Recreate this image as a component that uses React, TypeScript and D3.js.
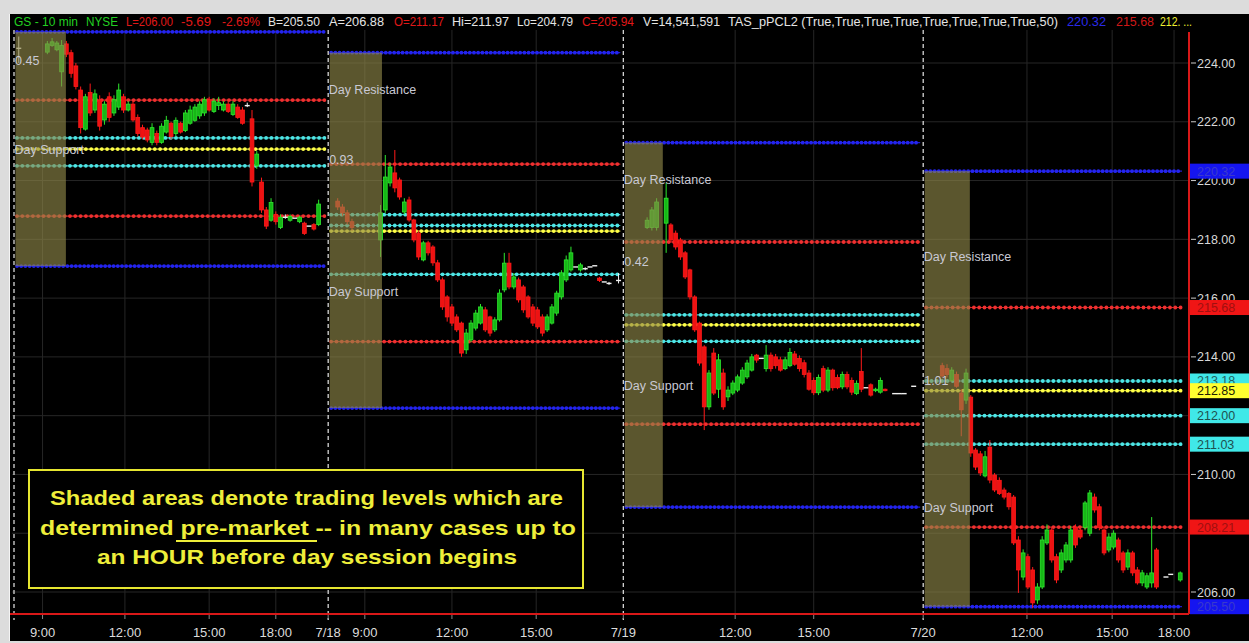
import React from "react";
import * as d3 from "d3";

type C = [number, number, number, number] | null; // open, high, low, close

// ---------- DATA ----------
const priceTicks = [206, 208, 210, 212, 214, 216, 218, 220, 222, 224];

const timeTicks: [number, string][] = [
  [6, "9:00"], [23.3, "12:00"], [41, "15:00"], [55, "18:00"],
  [66, "7/18"], [73.7, "9:00"], [92, "12:00"], [109.7, "15:00"],
  [128, "7/19"], [151.5, "12:00"], [168, "15:00"],
  [191, "7/20"], [212.8, "12:00"], [230.7, "15:00"], [243.7, "18:00"],
];

const dayStart = [0, 66, 128, 191];
const dayEnd = [66, 128, 191, 246];
const shadeEnd = [10.9, 77.3, 136.3, 200.8];

const blueTop = [225.06, 224.35, 221.29, 220.32];
const blueBottom = [217.09, 212.26, 208.89, 205.5];
const redHigh = [222.74, 220.56, 217.91, 215.68];
const redLow = [218.79, 214.52, 211.71, 208.21];
const cyanLevels = [[221.45, 220.5], [218.84, 218.47, 216.81], [215.43, 214.53], [213.18, 212.0, 211.03]];
const yellowLevel = [221.07, 218.28, 215.09, 212.85];
const resistLabelAt: (number | null)[] = [null, 223.11, 220.02, 217.4];
const supportLabelAt = [221.07, 216.21, 213.01, 208.86];
const gapText = ["0.45", "0.93", "0.42", "1.01"];
const gapAt = [224.1, 220.7, 217.23, 213.21];

const tags = [
  { v: 220.32, bg: "#1515f0", fg: "#3a3acc" },
  { v: 215.68, bg: "#f01515", fg: "#a01010" },
  { v: 213.18, bg: "#40e8e8", fg: "#206060" },
  { v: 212.85, bg: "#ffff30", fg: "#202000" },
  { v: 212.0, bg: "#40e8e8", fg: "#205050" },
  { v: 211.03, bg: "#40e8e8", fg: "#205050" },
  { v: 208.21, bg: "#f01515", fg: "#a01010" },
  { v: 205.5, bg: "#1515f0", fg: "#3a3acc" },
];

const day1Start = 1;
const day1Candles: C[] = [
  [224.5, 224.9, 224.0, 224.5],
  null, null, null, null, null,
  [224.37, 224.75, 224.3, 224.65], [224.6, 224.85, 224.55, 224.72], [224.45, 224.75, 224.4, 224.68],
  [223.7, 224.78, 223.2, 224.6], [224.65, 224.75, 224.2, 224.3], [224.35, 224.45, 223.5, 223.65],
  [223.9, 224.0, 223.1, 223.2], [223.08, 223.2, 221.6, 221.8], [221.75, 222.95, 221.7, 222.85],
  [223.0, 223.3, 222.2, 222.3], [222.4, 223.1, 222.3, 222.95], [222.74, 222.9, 221.7, 221.85],
  [222.06, 222.7, 221.9, 222.6], [222.85, 223.0, 222.0, 222.15], [222.3, 222.9, 222.2, 222.75],
  [222.5, 223.3, 222.4, 223.08], [222.85, 222.95, 222.3, 222.4], [222.4, 222.7, 222.35, 222.6],
  [222.6, 222.7, 222.0, 222.06], [222.15, 222.25, 221.5, 221.6], [221.8, 221.9, 221.4, 221.48],
  [221.72, 221.8, 221.3, 221.38], [221.3, 221.95, 221.2, 221.8], [221.6, 221.7, 221.2, 221.3],
  [221.3, 221.95, 221.25, 221.85], [221.65, 222.2, 221.6, 222.05], [221.95, 222.0, 221.4, 221.5],
  [221.6, 222.15, 221.5, 222.05], [221.95, 222.0, 221.6, 221.65], [221.7, 222.4, 221.65, 222.3],
  [221.95, 222.55, 221.9, 222.4], [222.05, 222.6, 222.0, 222.5], [222.2, 222.7, 222.1, 222.6],
  [222.3, 222.85, 222.2, 222.75], [222.75, 222.85, 222.35, 222.4], [222.35, 222.8, 222.3, 222.7],
  [222.55, 222.85, 222.4, 222.65], [222.4, 222.7, 222.35, 222.6], [222.6, 222.7, 222.3, 222.35],
  [222.25, 222.7, 222.2, 222.6], [222.5, 222.6, 222.1, 222.15], [222.4, 222.5, 221.9, 221.95],
  [222.55, 222.65, 222.5, 222.57], [222.1, 222.4, 219.8, 219.95], [220.5, 221.0, 220.4, 220.9],
  [219.95, 220.1, 218.9, 219.0], [219.0, 219.1, 218.35, 218.45], [218.65, 219.4, 218.6, 219.25],
  [218.85, 218.95, 218.5, 218.6], [218.4, 218.85, 218.35, 218.75], [218.75, 218.85, 218.7, 218.75],
  [218.65, 218.85, 218.6, 218.78], [218.72, 218.76, 218.7, 218.72], [218.6, 218.8, 218.55, 218.75],
  [218.55, 218.6, 218.15, 218.2], [218.45, 218.5, 218.4, 218.45], [218.5, 218.55, 218.3, 218.35],
  [218.5, 219.35, 218.45, 219.2],
];

const day2Start = 68;
const day2Candles: C[] = [
  [219.3, 219.4, 219.0, 219.1], [219.1, 219.2, 218.8, 218.9], [218.9, 219.0, 218.5, 218.6], [218.6, 218.7, 218.3, 218.4],
  null, null, null, null, null,
  [217.98, 219.17, 217.4, 218.9], [219.0, 220.87, 218.9, 220.12], [219.92, 220.6, 219.8, 220.46],
  [220.26, 221.04, 219.6, 219.75], [220.02, 220.1, 219.35, 219.44], [218.93, 219.4, 218.85, 219.27],
  [219.34, 219.45, 218.6, 218.66], [218.66, 218.7, 217.9, 217.98], [218.21, 218.3, 217.3, 217.4],
  [217.3, 217.95, 217.25, 217.88], [217.88, 217.95, 217.45, 217.54], [217.74, 217.8, 217.1, 217.2],
  [217.2, 217.3, 216.55, 216.62], [216.62, 216.7, 215.6, 215.7], [216.04, 216.1, 215.2, 215.36],
  [215.7, 215.8, 215.05, 215.15], [215.36, 215.45, 214.85, 214.92], [215.15, 215.2, 214.0, 214.13],
  [214.24, 214.95, 214.1, 214.81], [214.58, 215.25, 214.5, 215.15], [214.98, 215.6, 214.9, 215.49],
  [215.15, 215.8, 215.1, 215.7], [215.6, 215.7, 214.85, 214.92], [215.36, 215.4, 214.7, 214.81],
  [214.92, 215.35, 214.85, 215.26], [215.26, 216.3, 215.2, 216.17], [216.28, 217.54, 216.2, 217.19],
  [217.19, 217.54, 216.3, 216.38], [216.38, 216.85, 216.3, 216.72], [216.62, 216.7, 215.85, 215.94],
  [216.38, 216.45, 215.5, 215.6], [216.04, 216.1, 215.3, 215.36], [215.7, 215.8, 215.05, 215.15],
  [215.6, 215.7, 214.95, 215.02], [215.36, 215.45, 214.7, 214.81], [214.92, 215.45, 214.85, 215.36],
  [215.15, 215.8, 215.1, 215.7], [215.49, 216.25, 215.4, 216.17], [216.04, 216.95, 215.95, 216.86],
  [216.62, 217.45, 216.55, 217.3], [216.96, 217.75, 216.9, 217.54], [217.06, 217.1, 217.0, 217.06],
  [216.96, 217.2, 216.9, 217.13], [217.0, 217.05, 216.95, 217.0], [217.06, 217.1, 217.0, 217.06],
  [217.1, 217.12, 217.05, 217.1], [216.68, 216.72, 216.55, 216.6], [216.55, 216.6, 216.5, 216.55],
  [216.5, 216.55, 216.45, 216.5], null, [216.6, 216.85, 216.5, 216.6],
];

const day3Start = 133;
const day3Candles: C[] = [
  [218.4, 218.75, 218.35, 218.65], [218.4, 219.1, 218.3, 219.0], [218.4, 219.4, 218.3, 219.27], null,
  [218.55, 219.92, 217.54, 219.4], [218.49, 218.55, 217.9, 217.98], [218.21, 218.3, 217.65, 217.74],
  [217.98, 218.05, 217.3, 217.4], [217.54, 217.6, 216.65, 216.72], [216.96, 217.0, 215.95, 216.04],
  [216.04, 216.1, 214.85, 214.92], [215.15, 215.2, 213.7, 213.79], [214.34, 214.4, 211.51, 212.3],
  [212.3, 213.55, 212.2, 213.45], [214.13, 214.3, 212.7, 212.77], [212.9, 214.1, 212.6, 213.9],
  [213.45, 213.6, 212.2, 212.3], [212.64, 213.0, 212.5, 212.87], [212.77, 213.2, 212.7, 213.11],
  [212.87, 213.4, 212.8, 213.32], [213.11, 213.65, 213.05, 213.55], [213.32, 213.9, 213.25, 213.79],
  [213.55, 214.1, 213.5, 214.0], [214.06, 214.1, 213.8, 213.89], [213.95, 214.0, 213.9, 213.95],
  [213.6, 214.4, 213.5, 214.06], [214.06, 214.15, 213.5, 213.6], [214.0, 214.1, 213.6, 213.7],
  [213.9, 214.0, 213.5, 213.55], [213.6, 214.0, 213.55, 213.9], [213.7, 214.3, 213.65, 214.15],
  [214.1, 214.2, 213.7, 213.75], [213.95, 214.05, 213.5, 213.6], [213.8, 213.9, 213.3, 213.4],
  [213.45, 213.55, 212.85, 212.9], [213.2, 213.3, 212.7, 212.78], [212.78, 213.4, 212.7, 213.3],
  [213.6, 213.7, 212.8, 212.87], [212.87, 213.65, 212.8, 213.55], [213.55, 213.6, 212.85, 212.95],
  [213.3, 213.4, 212.9, 212.95], [212.98, 213.5, 212.9, 213.4], [213.4, 213.5, 212.9, 212.98],
  [213.2, 213.3, 212.7, 212.8], [212.75, 213.2, 212.7, 213.1], [213.5, 214.3, 212.8, 212.9],
  [212.95, 213.0, 212.9, 212.95], [213.05, 213.1, 212.65, 212.7], [212.85, 212.95, 212.8, 212.9],
  [212.8, 213.3, 212.75, 213.2], [212.9, 212.92, 212.83, 212.85], null,
  [212.75, 212.78, 212.72, 212.75], [212.75, 212.78, 212.72, 212.75], [212.75, 212.78, 212.72, 212.75], null,
  [213.0, 213.03, 212.97, 213.0],
];

const day4Start = 195;
const day4Candles: C[] = [
  [213.7, 213.8, 213.3, 213.35], [213.6, 213.75, 213.3, 213.4], [213.2, 213.65, 213.15, 213.55],
  [213.4, 213.5, 212.95, 213.0], [212.77, 212.9, 211.3, 212.2], [212.53, 213.6, 212.4, 213.45],
  [212.63, 212.7, 210.6, 210.73], [210.83, 210.9, 210.15, 210.25], [210.7, 210.8, 209.95, 210.05],
  [209.95, 210.8, 209.9, 210.6], [210.93, 211.17, 209.7, 209.81], [209.98, 210.05, 209.4, 209.47],
  [209.8, 209.9, 209.3, 209.35], [209.47, 209.55, 209.15, 209.23], [209.35, 209.4, 208.8, 208.9],
  [209.23, 209.3, 207.6, 207.67], [207.77, 207.9, 205.97, 206.75], [206.51, 207.45, 206.4, 207.33],
  [207.2, 207.3, 206.1, 206.17], [206.75, 206.85, 205.45, 205.63], [205.73, 206.3, 205.6, 206.17],
  [206.17, 207.9, 206.1, 207.77], [207.67, 208.3, 207.6, 208.11], [208.11, 208.2, 207.0, 207.09],
  [207.2, 207.3, 206.3, 206.41], [206.75, 207.45, 206.65, 207.33], [207.09, 207.7, 207.0, 207.6],
  [207.09, 208.25, 207.0, 208.11], [208.2, 208.3, 207.5, 207.6], [208.11, 208.2, 207.8, 207.87],
  [208.2, 209.1, 208.1, 209.03], [208.0, 209.47, 207.9, 209.37], [209.23, 209.35, 208.7, 208.79],
  [208.9, 209.0, 208.1, 208.2], [208.11, 208.2, 207.25, 207.33], [207.43, 208.0, 207.35, 207.87],
  [207.53, 208.1, 207.45, 208.0], [207.77, 207.85, 207.0, 207.09], [207.33, 207.4, 206.65, 206.75],
  [206.85, 207.45, 206.75, 207.33], [207.33, 207.4, 206.55, 206.65], [206.75, 206.85, 206.25, 206.31],
  [206.31, 206.75, 206.2, 206.65], [206.17, 206.65, 206.1, 206.55], [206.31, 208.55, 206.15, 206.65],
  [207.43, 207.5, 206.1, 206.17], null, [206.51, 206.54, 206.48, 206.51], [206.6, 206.63, 206.57, 206.6], null,
  [206.41, 206.7, 206.35, 206.65],
];

const headerParts: { t: string; x0: number; x1: number; c: string }[] = [
  { t: "GS - 10 min", x0: 14, x1: 78, c: "#22d022" },
  { t: "NYSE", x0: 86, x1: 118, c: "#22d022" },
  { t: "L=206.00", x0: 126, x1: 173, c: "#e01818" },
  { t: "-5.69", x0: 181, x1: 211, c: "#e01818" },
  { t: "-2.69%", x0: 222, x1: 260, c: "#e01818" },
  { t: "B=205.50", x0: 268, x1: 320, c: "#e4e4e4" },
  { t: "A=206.88", x0: 329, x1: 384, c: "#e4e4e4" },
  { t: "O=211.17", x0: 394, x1: 444, c: "#e01818" },
  { t: "Hi=211.97", x0: 452, x1: 509, c: "#e4e4e4" },
  { t: "Lo=204.79", x0: 517, x1: 573, c: "#e4e4e4" },
  { t: "C=205.94", x0: 582, x1: 634, c: "#e01818" },
  { t: "V=14,541,591", x0: 643, x1: 720, c: "#e4e4e4" },
  { t: "TAS_pPCL2 (True,True,True,True,True,True,True,True,50)", x0: 728, x1: 1058, c: "#e4e4e4" },
  { t: "220.32", x0: 1067, x1: 1106, c: "#2a2ae8" },
  { t: "215.68", x0: 1116, x1: 1154, c: "#d01818" },
  { t: "212. ...", x0: 1160, x1: 1192, c: "#f0f030" },
];

const noteLines = [
  "Shaded areas denote trading levels which are",
  "determined  pre-market -- in many cases up to",
  "an HOUR before day session begins",
];

// ---------- LAYOUT ----------
const W = 1249, H = 643;
const AXIS_X = 1189;
const BOTTOM_Y = 614;
const xS = d3.scaleLinear().domain([0, 246]).range([14, 1185]);
const yS = d3.scaleLinear().domain([206, 224]).range([592, 63]);

const RED = "#f03030", CYAN = "#4ee6e6", YELLOW = "#ffff48", BLUE = "#2424f0";

function DotLine({ x1, x2, v, color, blue }: { x1: number; x2: number; v: number; color: string; blue?: boolean }) {
  const y = yS(v);
  return (
    <g>
      <line x1={x1} x2={x2} y1={y} y2={y} stroke={color} strokeWidth={1.2} opacity={0.85} />
      <line x1={x1} x2={x2} y1={y} y2={y} stroke={color} strokeWidth={3.8}
        strokeDasharray={blue ? "0 4.2" : "0 5.3"} strokeLinecap="round" />
    </g>
  );
}

function Candle({ x, c }: { x: number; c: [number, number, number, number] }) {
  const [o, h, l, cl] = c;
  if (Math.abs(cl - o) < 0.035) {
    return (
      <g>
        {h - l > 0.1 && <line x1={x} x2={x} y1={yS(h)} y2={yS(l)} stroke="#f0f0f0" strokeWidth={1} />}
        <line x1={x - 2.5} x2={x + 2.5} y1={yS(o)} y2={yS(o)} stroke="#f0f0f0" strokeWidth={1.4} />
      </g>
    );
  }
  const up = cl > o;
  const col = up ? "#2ee82e" : "#ff1a1a";
  const top = yS(Math.max(o, cl)), bot = yS(Math.min(o, cl));
  return (
    <g>
      <line x1={x} x2={x} y1={yS(h)} y2={yS(l)} stroke={col} strokeWidth={1} />
      <rect x={x - 1.9} y={top} width={3.8} height={Math.max(1, bot - top)}
        fill={up ? "#16b816" : "#ee1212"} stroke={col} strokeWidth={0.8} />
    </g>
  );
}

const days = [
  { start: day1Start, candles: day1Candles },
  { start: day2Start, candles: day2Candles },
  { start: day3Start, candles: day3Candles },
  { start: day4Start, candles: day4Candles },
];

export default function App() {
  const labelFont = "'Liberation Sans', Arial, sans-serif";
  const narrow = "'Liberation Sans Narrow', 'Arial Narrow', 'Liberation Sans', Arial, sans-serif";
  const visibleTicks = priceTicks.filter((p) => !tags.some((t) => Math.abs(t.v - p) < 0.25));
  return (
    <svg width={W} height={H} style={{ position: "absolute", left: 0, top: 0, display: "block" }}>
      {/* frame */}
      <rect x={0} y={0} width={W} height={H} fill="#dcdcdc" />
      <rect x={10} y={14} width={W - 10} height={H - 16} fill="#000" />
      <line x1={9.5} x2={9.5} y1={14} y2={H - 2} stroke="#f4f4f4" strokeWidth={1} />

      {/* grid */}
      {priceTicks.map((p) => (
        <line key={"gh" + p} x1={12} x2={AXIS_X} y1={yS(p)} y2={yS(p)} stroke="#262626" strokeWidth={1} />
      ))}
      {timeTicks.filter(([, t]) => !t.includes("/")).map(([s, t], i) => (
        <line key={"gv" + i} x1={xS(s)} x2={xS(s)} y1={30} y2={BOTTOM_Y} stroke="#262626" strokeWidth={1} />
      ))}

      {/* level lines */}
      {dayStart.map((ds, i) => {
        const x1 = xS(ds) + 3, x2 = xS(dayEnd[i]) - 3;
        return (
          <g key={"lv" + i}>
            <DotLine x1={x1} x2={x2} v={blueTop[i]} color={BLUE} blue />
            <DotLine x1={x1} x2={x2} v={blueBottom[i]} color={BLUE} blue />
            <DotLine x1={x1} x2={x2} v={redHigh[i]} color={RED} />
            <DotLine x1={x1} x2={x2} v={redLow[i]} color={RED} />
            {cyanLevels[i].map((v) => <DotLine key={v} x1={x1} x2={x2} v={v} color={CYAN} />)}
            <DotLine x1={x1} x2={x2} v={yellowLevel[i]} color={YELLOW} />
          </g>
        );
      })}

      {/* candles */}
      {days.map((d, di) =>
        d.candles.map((c, i) => c && <Candle key={di + "-" + i} x={xS(d.start + i)} c={c} />)
      )}

      {/* pre-market shading */}
      {dayStart.map((ds, i) => (
        <rect key={"sh" + i} x={xS(ds) + 1.5} y={yS(blueTop[i])} width={xS(shadeEnd[i]) - xS(ds) - 1.5}
          height={yS(blueBottom[i]) - yS(blueTop[i])} fill="#8e8748" opacity={0.64} />
      ))}

      {/* labels */}
      {dayStart.map((ds, i) => (
        <g key={"lb" + i} fontFamily={labelFont} fontSize={12.5} fill="#c9c9d4">
          {resistLabelAt[i] !== null && (
            <text x={xS(ds) + 0.5} y={yS(resistLabelAt[i] as number) + 4.5}>Day Resistance</text>
          )}
          <text x={xS(ds) + 0.5} y={yS(supportLabelAt[i]) + 4.5}>Day Support</text>
          <text x={xS(ds) + 1} y={yS(gapAt[i]) + 4.5}>{gapText[i]}</text>
        </g>
      ))}

      {/* day separators */}
      {dayStart.map((ds, i) => (
        <line key={"sep" + i} x1={xS(ds)} x2={xS(ds)} y1={30} y2={BOTTOM_Y + 6} stroke="#e8e8e8"
          strokeWidth={1.2} strokeDasharray="4 3" />
      ))}

      {/* axes */}
      <line x1={10} x2={AXIS_X} y1={BOTTOM_Y} y2={BOTTOM_Y} stroke="#d81818" strokeWidth={2} />
      <line x1={AXIS_X} x2={AXIS_X} y1={32} y2={BOTTOM_Y} stroke="#d81818" strokeWidth={2} />
      {timeTicks.map(([s, t], i) => (
        <g key={"tt" + i}>
          <line x1={xS(s)} x2={xS(s)} y1={BOTTOM_Y + 1} y2={BOTTOM_Y + 5} stroke="#888" />
          <text x={xS(s)} y={637} textAnchor="middle" fontFamily={labelFont} fontSize={13} fill="#dcdcdc">{t}</text>
        </g>
      ))}
      {visibleTicks.map((p) => (
        <g key={"pt" + p}>
          <line x1={AXIS_X + 2} x2={AXIS_X + 7} y1={yS(p)} y2={yS(p)} stroke="#ccc" />
          <text x={AXIS_X + 8} y={yS(p) + 4.5} fontFamily={labelFont} fontSize={12.5} fill="#d8d8d8">{p.toFixed(2)}</text>
        </g>
      ))}
      {tags.map((t) => (
        <g key={"tag" + t.v}>
          <rect x={AXIS_X + 1} y={yS(t.v) - 7.5} width={W - AXIS_X - 1} height={15} fill={t.bg} />
          <text x={AXIS_X + 8} y={yS(t.v) + 4.5} fontFamily={labelFont} fontSize={12.5} fill={t.fg}>{t.v.toFixed(2)}</text>
        </g>
      ))}

      {/* header */}
      {headerParts.map((h) => (
        <text key={h.t} x={h.x0} y={26} fontFamily={narrow} fontSize={12.5} fill={h.c}
          textLength={h.x1 - h.x0} lengthAdjust="spacingAndGlyphs">{h.t}</text>
      ))}

      {/* note box */}
      <rect x={29} y={470} width={554} height={118} fill="#000" stroke="#e6e630" strokeWidth={2} />
      <g fontFamily={labelFont} fontSize={21} fontWeight="bold" fill="#eeee3a">
        <text x={50} y={505} textLength={513} lengthAdjust="spacingAndGlyphs">{noteLines[0]}</text>
        <text x={40} y={535} textLength={536} lengthAdjust="spacingAndGlyphs">{noteLines[1]}</text>
        <text x={97} y={564} textLength={420} lengthAdjust="spacingAndGlyphs">{noteLines[2]}</text>
      </g>
      <line x1={176} x2={317} y1={541} y2={541} stroke="#eeee3a" strokeWidth={1.8} />
    </svg>
  );
}
